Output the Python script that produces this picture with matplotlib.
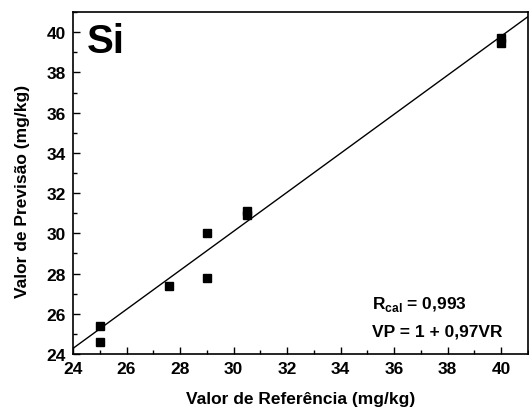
import matplotlib
matplotlib.use("Agg")
import matplotlib.pyplot as plt
from matplotlib.ticker import MultipleLocator

plt.rcParams['font.family'] = ['Liberation Sans', 'DejaVu Sans']
plt.rcParams['font.weight'] = 'bold'
plt.rcParams['mathtext.fontset'] = 'custom'
plt.rcParams['mathtext.rm'] = 'Liberation Sans:bold'
plt.rcParams['mathtext.bf'] = 'Liberation Sans:bold'

# Reference vs predicted values (mg/kg)
ref_values = [25.0, 25.0, 27.6, 29.0, 29.0, 30.5, 30.5, 40.0, 40.0]
pred_values = [25.4, 24.6, 27.4, 30.0, 27.8, 31.1, 30.9, 39.7, 39.45]

# calibration line VP = a + b*VR
intercept = 1.0
slope = 0.97
line_x = [24.0, 41.0]
line_y = [intercept + slope * v for v in line_x]

fig = plt.figure(figsize=(5.29, 4.14), dpi=100)
ax = fig.add_axes([0.138, 0.1425, 0.860, 0.826])

ax.plot(line_x, line_y, color='black', linewidth=1.0)
ax.plot(ref_values, pred_values, linestyle='none', marker='s',
        markersize=5.8, color='black')

ax.set_xlim(24, 41)
ax.set_ylim(24, 41)
ax.xaxis.set_major_locator(MultipleLocator(2))
ax.xaxis.set_minor_locator(MultipleLocator(1))
ax.yaxis.set_major_locator(MultipleLocator(2))
ax.yaxis.set_minor_locator(MultipleLocator(1))
ax.tick_params(which='both', direction='in', top=False, right=False,
               labelsize=12.5, width=1.0, pad=5)
ax.tick_params(which='major', length=5)
ax.tick_params(which='minor', length=3)
for lbl in ax.get_xticklabels() + ax.get_yticklabels():
    lbl.set_fontweight('bold')
for sp in ax.spines.values():
    sp.set_linewidth(1.2)

ax.set_xlabel('Valor de Referência (mg/kg)', fontsize=12.5, fontweight='bold',
              labelpad=11)
ax.set_ylabel('Valor de Previsão (mg/kg)', fontsize=12.5, fontweight='bold',
              labelpad=12)
ax.yaxis.label.set_y(0.477)

ax.text(0.031, 0.972, 'Si', transform=ax.transAxes, fontsize=29,
        fontweight='bold', va='top', ha='left')
ax.text(0.658, 0.1345, r'R$_{\mathrm{cal}}$ = 0,993', transform=ax.transAxes,
        fontsize=12.5, fontweight='bold', ha='left', va='baseline')
ax.text(0.658, 0.0535, 'VP = 1 + 0,97VR', transform=ax.transAxes,
        fontsize=12.5, fontweight='bold', ha='left', va='baseline')

fig.savefig('out.png', dpi=100)
